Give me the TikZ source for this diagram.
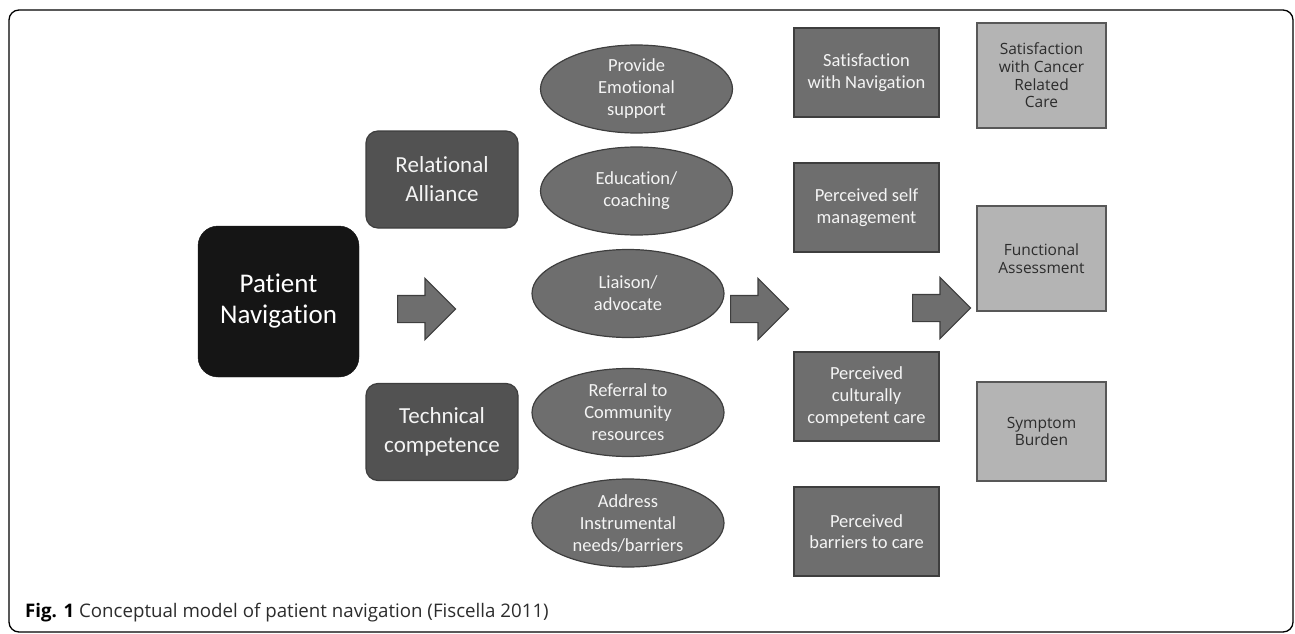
\documentclass[tikz,border=0pt]{standalone}
\usepackage{fontspec}
\setmainfont{Carlito}[Ligatures=CommonOff]
\newfontfamily\pnsans{Open Sans}[Ligatures=CommonOff]
\usetikzlibrary{shapes.geometric,shapes.arrows}
\definecolor{pnBlack}{HTML}{151515}
\definecolor{pnDark}{HTML}{525252}
\definecolor{pnMid}{HTML}{6E6E6E}
\definecolor{pnEdge}{HTML}{3E3E3E}
\definecolor{pnLight}{HTML}{B4B4B4}
\definecolor{pnLightEdge}{HTML}{585858}
\definecolor{pnText}{HTML}{2C2C2C}
\definecolor{pnWhite}{HTML}{F4F4F4}
\tikzset{
  pnmain/.style={rectangle,draw=pnBlack,fill=pnBlack,rounded corners=20pt,
                 text=white,align=center,inner sep=0pt,
                 minimum width=161pt,minimum height=151pt,
                 font=\fontsize{27}{31}\selectfont},
  pndomain/.style={rectangle,draw=pnEdge,fill=pnDark,line width=1.2pt,
                   rounded corners=12pt,text=pnWhite,align=center,inner sep=0pt,
                   minimum width=152pt,minimum height=97pt,
                   font=\fontsize{23}{29}\selectfont},
  pnact/.style={ellipse,draw=pnEdge,fill=pnMid,line width=1.2pt,
                text=pnWhite,align=center,inner sep=0pt,
                minimum width=192pt,minimum height=88pt,
                font=\fontsize{18.5}{22}\selectfont},
  pnout/.style={rectangle,draw=pnEdge,fill=pnMid,line width=2pt,
                text=pnWhite,align=center,inner sep=0pt,
                minimum width=145pt,minimum height=89pt,
                font=\fontsize{18.5}{21.7}\selectfont},
  pnfinal/.style={rectangle,draw=pnLightEdge,fill=pnLight,line width=2pt,
                  text=pnText,align=center,inner sep=0pt,
                  minimum width=129pt,minimum height=105pt,
                  font=\pnsans\fontsize{15.5}{17.7}\selectfont},
  pnarrow/.style={single arrow,draw=pnEdge,fill=pnMid,line width=1.2pt,
                  anchor=tail,minimum height=58pt,inner xsep=0pt,inner ysep=13pt,
                  single arrow head extend=17pt},
  pnframe/.style={draw=black,line width=1.3pt,rounded corners=10pt},
  pncaption/.style={anchor=base west,inner sep=0pt,text=pnText,
                    font=\pnsans\fontsize{18.7}{23}\selectfont}
}
\begin{document}
\begin{tikzpicture}[x=1pt,y=-1pt]
  \useasboundingbox (0,0) rectangle (1295,634);
  \draw[pnframe] (9,10) rectangle (1293,632);

  % left: program and its two domains
  \node[pnmain] (nav) at (278.5,301.5) {Patient\\Navigation};
  \node[pndomain] (rel) at (442,179.5) {Relational\\Alliance};
  \node[pndomain] (tech) at (442,432) {Technical\\competence};
  \node[pnarrow] (arr1) at (397,309) {};

  % navigator activities
  \node[pnact] (emo) at (636.5,89) {Provide\\Emotional\\support};
  \node[pnact] (edu) at (636.5,191) {Education/\\coaching};
  \node[pnact] (liai) at (628,293.5) {Liaison/\\advocate};
  \node[pnact] (refer) at (628,412.5) {Referral to\\Community\\resources};
  \node[pnact] (instr) at (628,523) {Address\\Instrumental\\needs/barriers};
  \node[pnarrow] (arr2) at (730,309) {};

  % proximal outcomes
  \node[pnout] (satnav) at (866.5,72.5) {Satisfaction\\with Navigation};
  \node[pnout] (selfm) at (866.5,207.5) {Perceived self\\management};
  \node[pnout] (cult) at (866.5,396.5) {Perceived\\culturally\\competent care};
  \node[pnout] (barr) at (866.5,531.5) {Perceived\\barriers to care};
  \node[pnarrow] (arr3) at (912,308) {};

  % distal outcomes
  \node[pnfinal] (satcare) at (1041.5,75.5) {Satisfaction\\with Cancer\\Related\\Care};
  \node[pnfinal] (func) at (1041.5,258.5) {Functional\\Assessment};
  \node[pnfinal,minimum height=99pt] (symp) at (1041.5,431.5) {Symptom\\Burden};

  \node[pncaption] (cap) at (25,617)
    {{\color{black}\bfseries Fig. 1} Conceptual model of patient navigation (Fiscella 2011)};
\end{tikzpicture}
\end{document}
